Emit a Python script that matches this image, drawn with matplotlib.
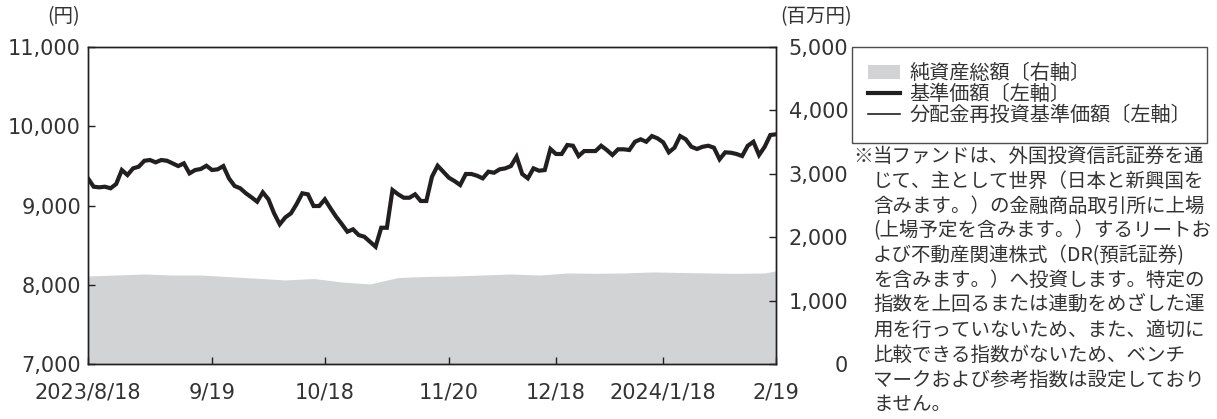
import matplotlib.pyplot as plt
from matplotlib.lines import Line2D
from matplotlib.patches import Patch
from matplotlib.ticker import StrMethodFormatter

plt.rcParams['font.family'] = ['DejaVu Sans', 'Noto Sans CJK JP']

# 基準価額 (円) - one value per trading day
nav = [9342, 9237, 9229, 9237, 9217, 9271, 9447, 9384, 9468, 9489,
       9564, 9573, 9544, 9573, 9564, 9531, 9497, 9531, 9405, 9447,
       9460, 9501, 9447, 9456, 9497, 9342, 9246, 9217, 9154, 9103,
       9048, 9166, 9078, 8902, 8763, 8851, 8902, 9019, 9154, 9141,
       8994, 8994, 9078, 8965, 8859, 8767, 8670, 8700, 8628, 8607,
       8544, 8481, 8720, 8720, 9195, 9141, 9098, 9098, 9141, 9057,
       9057, 9363, 9501, 9426, 9350, 9308, 9258, 9397, 9397, 9375,
       9342, 9426, 9413, 9456, 9468, 9497, 9615, 9397, 9342, 9468,
       9438, 9447, 9712, 9649, 9649, 9762, 9753, 9623, 9686, 9686,
       9686, 9753, 9699, 9636, 9708, 9708, 9699, 9803, 9834, 9803,
       9875, 9846, 9796, 9670, 9728, 9875, 9834, 9740, 9712, 9740,
       9753, 9728, 9582, 9670, 9665, 9649, 9623, 9753, 9803, 9636,
       9740, 9888, 9897]

# 純資産総額 (百万円), sampled every 5 trading days
asset_idx = [0, 5, 10, 15, 20, 25, 30, 35, 40, 45, 50, 55, 60,
             65, 70, 75, 80, 85, 90, 95, 100, 105, 110, 115, 120, 122]
net_assets = [1391, 1406, 1422, 1406, 1406, 1380, 1355, 1328, 1351, 1296,
              1265, 1367, 1383, 1391, 1406, 1422, 1406, 1438, 1433, 1438,
              1454, 1446, 1438, 1433, 1438, 1472]

tick_idx = [0, 22, 42, 64, 83, 102, 122]
tick_labels = ['2023/8/18', '9/19', '10/18', '11/20', '12/18', '2024/1/18', '2/19']

dark = '#231f20'
grey = '#d1d3d4'
jp = ['Noto Sans CJK JP', 'DejaVu Sans']

fig = plt.figure(figsize=(12.17, 4.19), dpi=100)
ax = fig.add_axes([0.0723, 0.1305, 0.5653, 0.758])
ax2 = ax.twinx()

# area on the right axis, lines on the left axis drawn above it
ax2.fill_between(asset_idx, net_assets, 0, color=grey, linewidth=0)
ax.set_zorder(ax2.get_zorder() + 1)
ax.patch.set_visible(False)

x = list(range(len(nav)))
ax.plot(x, nav, color=dark, linewidth=3.0, solid_joinstyle='miter')
ax.plot(x, nav, color=dark, linewidth=1.0)

ax.set_xlim(0, len(nav) - 1)
ax.set_ylim(7000, 11000)
ax.set_yticks(range(7000, 11001, 1000))
ax.yaxis.set_major_formatter(StrMethodFormatter('{x:,.0f}'))
ax.set_xticks(tick_idx)
ax.set_xticklabels(tick_labels)

ax2.set_ylim(0, 5000)
ax2.set_yticks(range(0, 5001, 1000))
ax2.yaxis.set_major_formatter(StrMethodFormatter('{x:,.0f}'))

for a in (ax, ax2):
    for s in a.spines.values():
        s.set_color(dark)
        s.set_linewidth(1.0)
ax.tick_params(axis='both', direction='in', length=5, width=1.0, color=dark,
               labelsize=15, labelcolor='#333333')
ax.tick_params(axis='y', pad=5)
ax.tick_params(axis='x', pad=13)
ax2.tick_params(axis='y', direction='in', length=5, width=1.0, color=dark,
                labelsize=15, labelcolor='#333333', pad=52)
for lbl in ax2.get_yticklabels():
    lbl.set_horizontalalignment('right')

fig.text(64 / 1217, 1 - 17 / 419, '(円)', ha='center', va='center',
         fontsize=14, color='#333333', family=jp)
fig.text(816 / 1217, 1 - 17 / 419, '(百万円)', ha='center', va='center',
         fontsize=14, color='#333333', family=jp)

handles = [Patch(facecolor=grey, edgecolor='none'),
           Line2D([], [], color=dark, linewidth=3.0),
           Line2D([], [], color=dark, linewidth=1.2)]
labels = ['純資産総額〔右軸〕', '基準価額〔左軸〕', '分配金再投資基準価額〔左軸〕']
leg = fig.legend(handles, labels, loc='upper left',
                 bbox_to_anchor=(851.7 / 1217, 1 - 47.3 / 419),
                 borderaxespad=0, frameon=True, fancybox=False,
                 edgecolor=dark, handlelength=1.6, handleheight=0.7,
                 handletextpad=0.45, labelspacing=0.0, borderpad=0.8,
                 prop={'family': jp, 'size': 14.5})
leg.get_frame().set_linewidth(1.0)
for t in leg.get_texts():
    t.set_color('#333333')

note = ('当ファンドは、外国投資信託証券を通\n'
        'じて、主として世界（日本と新興国を\n'
        '含みます。）の金融商品取引所に上場\n'
        '(上場予定を含みます。）するリートお\n'
        'よび不動産関連株式（DR(預託証券)\n'
        'を含みます。）へ投資します。特定の\n'
        '指数を上回るまたは連動をめざした運\n'
        '用を行っていないため、また、適切に\n'
        '比較できる指数がないため、ベンチ\n'
        'マークおよび参考指数は設定しており\n'
        'ません。')
fig.text(853 / 1217, 1 - 146 / 419, '※', ha='left', va='top',
         fontsize=14, color='#333333', family=jp)
fig.text(873 / 1217, 1 - 146 / 419, note, ha='left', va='top',
         fontsize=14, color='#333333', family=jp, linespacing=1.24)

fig.savefig('out.png', dpi=100)
